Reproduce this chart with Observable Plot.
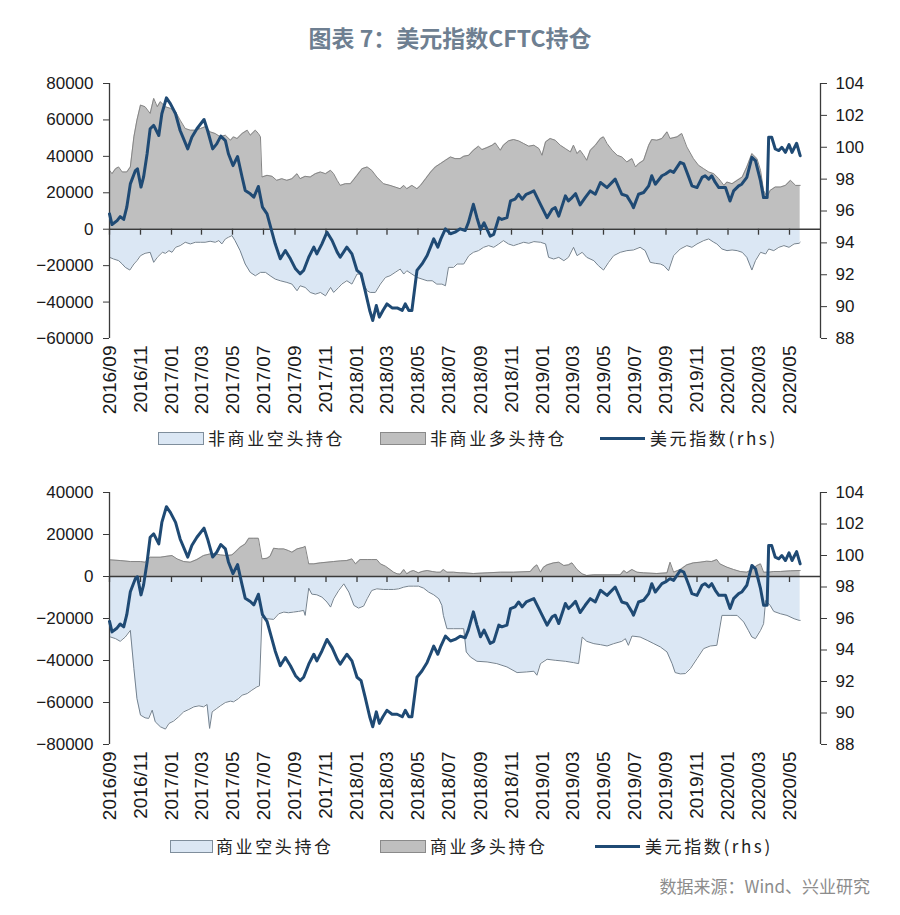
<!DOCTYPE html>
<html><head><meta charset="utf-8">
<script src="https://cdn.jsdelivr.net/npm/d3@7"></script>
<script src="https://cdn.jsdelivr.net/npm/@observablehq/plot@0.6"></script>
<style>
body{margin:0;background:#fff;}
#root{position:relative;width:900px;height:915px;overflow:hidden;}
.title{position:absolute;top:21px;left:0;width:900px;text-align:center;font:600 23px "Noto Sans CJK SC",sans-serif;color:#6e7f91;line-height:32px;}
.panel{position:absolute;left:0;}
.lg{position:absolute;font:17px "Noto Sans CJK SC",sans-serif;letter-spacing:2.6px;color:#222;line-height:24px;white-space:nowrap;}
.box{position:absolute;height:11px;}
.ln{position:absolute;height:3px;background:#1f4a74;}
.src{position:absolute;right:30px;top:873px;font:17px "Noto Sans CJK SC",sans-serif;color:#8c8c8c;}
</style></head>
<body><div id="root">
<div class="title">图表 7：美元指数CFTC持仓</div>
</div>
<script>
// ---------------- data ----------------
const xTickLabels = ["2016/09","2016/11","2017/01","2017/03","2017/05","2017/07","2017/09","2017/11","2018/01","2018/03","2018/05","2018/07","2018/09","2018/11","2019/01","2019/03","2019/05","2019/07","2019/09","2019/11","2020/01","2020/03","2020/05"];
const topLeftTicks = [-60000,-40000,-20000,0,20000,40000,60000,80000];
const bottomLeftTicks = [-80000,-60000,-40000,-20000,0,20000,40000];
const rightTicks = [88,90,92,94,96,98,100,102,104];

const dxyDates = ["2016-09-01","2016-09-06","2016-09-16","2016-09-22","2016-09-29","2016-10-05","2016-10-12","2016-10-22","2016-10-26","2016-11-02","2016-11-07","2016-11-14","2016-11-20","2016-11-27","2016-12-07","2016-12-13","2016-12-22","2016-12-30","2017-01-09","2017-01-18","2017-02-02","2017-02-10","2017-02-20","2017-03-06","2017-03-13","2017-03-23","2017-03-31","2017-04-08","2017-04-17","2017-04-23","2017-05-02","2017-05-11","2017-05-20","2017-05-26","2017-06-05","2017-06-12","2017-06-21","2017-06-29","2017-07-08","2017-07-16","2017-07-24","2017-08-03","2017-08-13","2017-08-23","2017-09-02","2017-09-11","2017-09-18","2017-09-28","2017-10-08","2017-10-14","2017-10-24","2017-11-03","2017-11-13","2017-11-23","2017-11-29","2017-12-12","2017-12-22","2018-01-01","2018-01-09","2018-01-17","2018-01-26","2018-02-01","2018-02-08","2018-02-14","2018-02-21","2018-03-01","2018-03-11","2018-03-21","2018-03-31","2018-04-06","2018-04-13","2018-04-19","2018-04-29","2018-05-09","2018-05-19","2018-05-27","2018-06-01","2018-06-09","2018-06-15","2018-06-24","2018-07-04","2018-07-13","2018-07-23","2018-08-02","2018-08-08","2018-08-18","2018-08-25","2018-09-01","2018-09-08","2018-09-20","2018-09-27","2018-10-07","2018-10-13","2018-10-23","2018-10-30","2018-11-08","2018-11-15","2018-11-22","2018-11-30","2018-12-08","2018-12-15","2018-12-28","2019-01-10","2019-01-20","2019-01-26","2019-02-02","2019-02-15","2019-02-21","2019-02-28","2019-03-07","2019-03-16","2019-03-26","2019-04-05","2019-04-15","2019-04-25","2019-05-08","2019-05-24","2019-06-06","2019-06-16","2019-06-26","2019-06-29","2019-07-09","2019-07-19","2019-07-29","2019-08-04","2019-08-11","2019-08-24","2019-08-31","2019-09-09","2019-09-16","2019-09-29","2019-10-06","2019-10-16","2019-10-22","2019-11-01","2019-11-11","2019-11-17","2019-11-24","2019-11-30","2019-12-07","2019-12-14","2019-12-27","2020-01-05","2020-01-12","2020-01-22","2020-01-28","2020-02-07","2020-02-17","2020-02-24","2020-03-05","2020-03-11","2020-03-18","2020-03-21","2020-03-27","2020-04-03","2020-04-10","2020-04-16","2020-04-23","2020-04-30","2020-05-06","2020-05-15","2020-05-22"];
const dxyValues = [95.82,95.15,95.40,95.65,95.47,96.24,97.70,98.54,98.65,97.50,98.12,99.59,101.16,101.37,100.74,102.10,103.10,102.72,102.10,101.05,99.90,100.63,101.16,101.74,101.05,99.90,100.21,100.70,100.42,99.59,98.85,99.42,98.12,97.29,97.08,96.87,97.54,96.24,95.82,94.88,93.94,93.00,93.52,93.00,92.37,92.06,92.27,93.10,93.73,93.31,93.94,94.67,94.15,93.42,93.10,93.73,93.31,92.27,92.06,91.01,89.76,89.13,90.07,89.34,89.76,90.17,89.92,89.92,89.76,90.17,89.76,89.76,92.27,92.68,93.21,93.84,94.25,93.73,94.25,94.88,94.57,94.67,94.88,94.78,95.26,96.42,95.58,94.84,95.26,94.42,94.53,95.58,95.47,95.58,96.63,96.74,97.05,96.74,97.05,97.16,97.26,96.42,95.58,96.11,96.21,95.68,96.95,96.63,96.84,97.09,96.38,96.84,97.26,97.05,97.79,97.47,98.00,97.05,96.95,96.42,96.21,97.05,97.16,97.58,98.21,97.68,98.21,98.32,98.53,98.42,99.05,98.95,98.11,97.58,97.47,98.11,98.21,98.00,98.21,97.79,97.47,97.47,96.63,97.26,97.58,97.68,98.11,99.37,99.16,97.89,96.84,96.84,100.63,100.63,99.89,99.79,100.00,99.68,100.17,99.68,100.25,99.47];

// 非商业多头持仓
const ncLongDates = ["2016-09-01","2016-09-06","2016-09-13","2016-09-19","2016-09-26","2016-10-05","2016-10-12","2016-10-19","2016-10-25","2016-11-01","2016-11-10","2016-11-20","2016-11-27","2016-12-04","2016-12-10","2016-12-20","2016-12-30","2017-01-09","2017-01-18","2017-01-28","2017-02-07","2017-02-17","2017-02-27","2017-03-08","2017-03-18","2017-03-28","2017-04-07","2017-04-17","2017-04-27","2017-05-03","2017-05-10","2017-05-20","2017-05-30","2017-06-05","2017-06-15","2017-06-21","2017-06-25","2017-06-28","2017-07-08","2017-07-18","2017-07-27","2017-08-06","2017-08-16","2017-08-26","2017-09-05","2017-09-11","2017-09-21","2017-10-01","2017-10-11","2017-10-21","2017-10-31","2017-11-10","2017-11-16","2017-11-23","2017-11-29","2017-12-09","2017-12-19","2018-01-01","2018-01-11","2018-01-21","2018-01-30","2018-02-09","2018-02-22","2018-03-07","2018-03-17","2018-03-27","2018-04-03","2018-04-09","2018-04-19","2018-04-29","2018-05-06","2018-05-16","2018-05-26","2018-06-04","2018-06-14","2018-06-24","2018-07-04","2018-07-13","2018-07-23","2018-07-30","2018-08-09","2018-08-18","2018-08-28","2018-09-04","2018-09-14","2018-09-24","2018-09-30","2018-10-10","2018-10-16","2018-10-26","2018-11-05","2018-11-15","2018-11-25","2018-12-05","2018-12-15","2018-12-25","2018-12-31","2019-01-07","2019-01-16","2019-01-26","2019-02-05","2019-02-15","2019-02-25","2019-03-03","2019-03-10","2019-03-16","2019-03-23","2019-03-29","2019-04-05","2019-04-15","2019-04-25","2019-05-01","2019-05-08","2019-05-18","2019-05-28","2019-06-06","2019-06-16","2019-06-26","2019-07-03","2019-07-09","2019-07-19","2019-07-29","2019-08-04","2019-08-14","2019-08-24","2019-09-03","2019-09-09","2019-09-23","2019-10-02","2019-10-12","2019-10-25","2019-11-04","2019-11-14","2019-11-24","2019-12-04","2019-12-14","2019-12-24","2019-12-30","2020-01-09","2020-01-19","2020-01-29","2020-02-07","2020-02-17","2020-02-27","2020-03-05","2020-03-11","2020-03-18","2020-03-24","2020-04-03","2020-04-13","2020-04-23","2020-05-03","2020-05-13","2020-05-22"];
const ncLongValues = [32331,30494,33250,34168,31413,31413,34168,50701,59886,68153,67234,63560,71827,67234,69990,67234,66316,64479,59886,55294,54375,54375,55294,56212,53457,52538,50701,51620,48864,50701,49783,52538,54375,51620,54375,52538,50701,28657,29576,29025,26820,27739,26820,27739,30494,27739,29025,28657,30494,31413,30494,32331,30494,26820,24065,24983,24983,29576,33250,34168,32331,28657,24983,24065,23146,22228,24065,22228,24065,22228,24065,27739,31413,34168,36005,37842,39679,38761,38761,40047,40598,43353,45558,43721,44823,46109,47395,43353,46109,48497,49232,48497,47027,45558,46109,44272,40598,47946,49783,48864,46109,44272,42435,46109,41516,43353,40598,37842,43353,46109,49783,50701,47027,43353,40598,39679,36924,38761,34168,36005,37842,46109,49232,48864,49783,53457,49783,50701,52538,45191,38761,35087,33250,31413,30494,27739,24065,25902,24983,26820,28657,34168,41516,38761,32331,21309,17635,21309,23146,23146,24065,26820,24065,24065];

// 非商业空头持仓
const ncShortDates = ["2016-09-01","2016-09-09","2016-09-19","2016-09-26","2016-10-02","2016-10-11","2016-10-19","2016-10-25","2016-11-01","2016-11-10","2016-11-20","2016-11-27","2016-12-04","2016-12-14","2016-12-20","2016-12-27","2017-01-02","2017-01-09","2017-01-18","2017-01-28","2017-02-07","2017-02-17","2017-02-27","2017-03-08","2017-03-18","2017-03-28","2017-04-04","2017-04-10","2017-04-17","2017-04-23","2017-04-30","2017-05-06","2017-05-16","2017-05-26","2017-06-05","2017-06-15","2017-06-25","2017-07-05","2017-07-14","2017-07-24","2017-08-03","2017-08-16","2017-08-26","2017-09-05","2017-09-11","2017-09-21","2017-10-01","2017-10-11","2017-10-21","2017-10-31","2017-11-10","2017-11-16","2017-11-26","2017-12-02","2017-12-12","2017-12-22","2018-01-01","2018-01-07","2018-01-14","2018-01-21","2018-01-27","2018-02-06","2018-02-16","2018-02-26","2018-03-07","2018-03-17","2018-03-27","2018-04-03","2018-04-09","2018-04-19","2018-04-29","2018-05-09","2018-05-19","2018-05-29","2018-06-07","2018-06-17","2018-06-24","2018-06-30","2018-07-10","2018-07-17","2018-07-23","2018-07-30","2018-08-09","2018-08-18","2018-08-28","2018-09-07","2018-09-17","2018-09-27","2018-10-07","2018-10-16","2018-10-26","2018-11-05","2018-11-15","2018-11-25","2018-12-05","2018-12-15","2018-12-28","2019-01-07","2019-01-13","2019-01-23","2019-02-02","2019-02-12","2019-02-21","2019-03-03","2019-03-10","2019-03-20","2019-03-29","2019-04-12","2019-04-21","2019-05-01","2019-05-11","2019-05-21","2019-06-03","2019-06-16","2019-06-29","2019-07-12","2019-07-22","2019-08-01","2019-08-11","2019-08-21","2019-08-28","2019-09-06","2019-09-16","2019-09-29","2019-10-12","2019-10-22","2019-11-01","2019-11-14","2019-11-24","2019-12-04","2019-12-10","2019-12-20","2019-12-30","2020-01-09","2020-01-19","2020-01-29","2020-02-07","2020-02-17","2020-02-24","2020-03-05","2020-03-15","2020-03-21","2020-03-31","2020-04-10","2020-04-20","2020-04-30","2020-05-10","2020-05-20","2020-05-22"];
const ncShortValues = [-15431,-16349,-17268,-19105,-20942,-22411,-19105,-17268,-14512,-13226,-12675,-18186,-15431,-12675,-13226,-11757,-12675,-9920,-9001,-7164,-8083,-7164,-7164,-7164,-6613,-7164,-6246,-8083,-5327,-4409,-3490,-6246,-11757,-19105,-23697,-25534,-23697,-23697,-25534,-27371,-28290,-29208,-30127,-33801,-31045,-31964,-34719,-35638,-34719,-36556,-31964,-34719,-31964,-30127,-28290,-30127,-24616,-24616,-30127,-33801,-34719,-34719,-30127,-26453,-25534,-23697,-21860,-24616,-22779,-24616,-26453,-27371,-28290,-28290,-30127,-30127,-31045,-20942,-20942,-19105,-19105,-19105,-14512,-12675,-11757,-9920,-9001,-9920,-8083,-6246,-8083,-9001,-8083,-7164,-7715,-6797,-7164,-8083,-15431,-16349,-15431,-17268,-15431,-9920,-14512,-12675,-15431,-17268,-20023,-22411,-18186,-14512,-12675,-11757,-11389,-9920,-11757,-18186,-18737,-19105,-20023,-22779,-14512,-10838,-9001,-9920,-8083,-6246,-5327,-7164,-8083,-10838,-11757,-11389,-11757,-12675,-15431,-22411,-17268,-12675,-13594,-10838,-11757,-9920,-9001,-9920,-8083,-7715,-7164];

// 商业多头持仓
const cLongDates = ["2016-09-03","2016-09-22","2016-10-12","2016-11-01","2016-11-10","2016-11-20","2016-12-10","2016-12-23","2017-01-02","2017-01-12","2017-01-25","2017-02-07","2017-02-20","2017-03-05","2017-03-18","2017-03-28","2017-04-07","2017-04-20","2017-04-30","2017-05-06","2017-05-16","2017-05-26","2017-06-02","2017-06-12","2017-06-21","2017-06-28","2017-07-08","2017-07-14","2017-07-21","2017-07-31","2017-08-10","2017-08-19","2017-08-26","2017-09-05","2017-09-18","2017-09-21","2017-09-28","2017-10-08","2017-10-21","2017-11-03","2017-11-16","2017-11-29","2017-12-12","2017-12-22","2017-12-29","2018-01-07","2018-01-21","2018-01-30","2018-02-09","2018-02-16","2018-02-26","2018-03-07","2018-03-14","2018-03-21","2018-03-27","2018-04-03","2018-04-09","2018-04-16","2018-04-22","2018-05-02","2018-05-09","2018-05-19","2018-05-29","2018-06-07","2018-06-14","2018-06-20","2018-06-27","2018-07-10","2018-07-23","2018-07-30","2018-08-18","2018-09-14","2018-10-10","2018-11-05","2018-12-08","2018-12-15","2018-12-21","2018-12-28","2019-01-03","2019-01-10","2019-01-23","2019-02-02","2019-02-12","2019-02-21","2019-02-28","2019-03-10","2019-03-20","2019-03-29","2019-04-12","2019-05-08","2019-06-03","2019-06-10","2019-06-16","2019-06-26","2019-07-06","2019-07-19","2019-08-14","2019-09-03","2019-09-09","2019-09-16","2019-09-29","2019-10-12","2019-10-25","2019-11-07","2019-11-20","2019-11-30","2019-12-10","2019-12-16","2019-12-30","2020-01-12","2020-01-25","2020-02-07","2020-02-17","2020-02-27","2020-03-05","2020-03-11","2020-03-21","2020-03-31","2020-04-13","2020-05-03","2020-05-20","2020-05-22"];
const cLongValues = [7915,7598,7124,7124,6807,9181,9181,9656,9973,8390,7124,6807,8073,9973,10764,10764,10290,9973,10290,11556,13930,15513,18205,18205,18205,8390,8707,9656,13456,13139,13139,12347,11556,13139,13930,14405,6015,6015,6490,6807,7124,7440,7598,8390,6015,8073,8073,8073,8073,6015,4907,3324,2058,1266,1108,3324,1266,2375,2849,1741,2375,2849,2375,2058,2058,3324,2058,2058,1741,1741,1425,1741,2058,2058,2375,4432,5541,2058,4432,5541,6490,6807,5224,5541,6490,3324,1266,475,792,792,792,2849,1741,3324,2058,1741,1425,1741,6807,2058,3324,5541,6490,6807,7282,7124,8073,6015,4432,3324,2375,2058,3324,5224,6015,2058,2058,2375,2375,2690,2849,2849];

// 商业空头持仓
const cShortDates = ["2016-09-03","2016-09-13","2016-09-22","2016-10-02","2016-10-12","2016-10-19","2016-10-25","2016-11-01","2016-11-10","2016-11-17","2016-11-24","2016-11-30","2016-12-10","2016-12-20","2016-12-27","2017-01-05","2017-01-15","2017-01-25","2017-02-04","2017-02-14","2017-02-24","2017-03-05","2017-03-12","2017-03-17","2017-03-22","2017-03-31","2017-04-07","2017-04-17","2017-04-27","2017-05-03","2017-05-13","2017-05-20","2017-05-30","2017-06-08","2017-06-18","2017-06-23","2017-06-28","2017-07-08","2017-07-21","2017-07-31","2017-08-10","2017-08-19","2017-08-29","2017-09-08","2017-09-18","2017-09-21","2017-09-28","2017-10-04","2017-10-14","2017-10-24","2017-11-03","2017-11-10","2017-11-16","2017-11-26","2017-12-06","2017-12-16","2017-12-26","2018-01-04","2018-01-14","2018-01-21","2018-01-30","2018-02-09","2018-02-22","2018-03-04","2018-03-14","2018-03-24","2018-04-03","2018-04-13","2018-04-22","2018-05-02","2018-05-12","2018-05-22","2018-06-01","2018-06-11","2018-06-17","2018-06-20","2018-06-27","2018-07-10","2018-07-23","2018-07-30","2018-08-04","2018-08-12","2018-08-25","2018-09-14","2018-10-03","2018-10-23","2018-11-12","2018-12-01","2018-12-15","2018-12-21","2018-12-28","2019-01-10","2019-01-26","2019-02-15","2019-03-03","2019-03-13","2019-03-20","2019-03-29","2019-04-12","2019-04-25","2019-05-08","2019-05-21","2019-06-06","2019-06-13","2019-06-19","2019-06-26","2019-07-12","2019-07-26","2019-08-08","2019-08-21","2019-09-03","2019-09-13","2019-09-19","2019-09-29","2019-10-09","2019-10-19","2019-11-01","2019-11-14","2019-11-27","2019-12-10","2019-12-20","2020-01-05","2020-01-19","2020-02-01","2020-02-10","2020-02-17","2020-02-24","2020-03-05","2020-03-11","2020-03-15","2020-03-24","2020-03-31","2020-04-13","2020-04-26","2020-05-10","2020-05-20","2020-05-22"];
const cShortValues = [-28811,-29602,-30869,-28811,-25645,-43849,-58096,-66011,-67278,-67594,-63637,-69177,-71552,-72660,-69969,-68861,-66803,-64428,-63320,-62054,-61579,-62054,-60946,-72343,-64428,-62845,-61579,-59996,-59363,-59679,-58096,-56513,-55722,-54139,-52556,-52081,-19313,-20104,-20421,-17730,-16938,-17255,-16938,-16622,-16147,-18521,-5541,-8390,-8707,-9815,-12189,-14564,-10606,-6649,-3483,-7440,-13772,-15039,-14089,-10606,-6649,-5857,-6174,-6174,-6174,-5857,-5066,-4591,-4591,-4591,-5541,-7440,-8707,-10606,-13772,-18521,-24853,-24853,-24853,-24853,-35934,-38309,-40367,-40683,-41475,-43058,-45749,-45432,-45116,-47015,-41475,-39417,-39892,-40367,-41000,-41475,-28811,-30869,-31977,-32452,-33085,-31977,-30869,-29602,-32768,-28336,-28811,-30394,-31977,-33560,-35934,-41475,-45749,-46382,-46224,-43849,-39100,-34351,-33085,-32768,-18521,-18521,-18521,-21687,-25645,-28811,-29602,-25645,-22479,-11398,-13772,-16622,-17730,-18521,-20104,-20896,-20896];

// ---------------- helpers ----------------
const parse = d3.utcParse("%Y-%m-%d");
const zip = (ds, vs) => ds.map((d, i) => ({date: parse(d), v: vs[i]}));
const dxy = zip(dxyDates, dxyValues);
const tickDates = xTickLabels.map(d3.utcParse("%Y/%m"));
const xDomain = [new Date(Date.UTC(2016, 8, 1)), new Date(Date.UTC(2020, 6, 1))];

const C = {long: "#bfbfbf", longLine: "#858585", short: "#dbe7f4", shortLine: "#74828f", dxy: "#1f4a74", axis: "#3a3a3a"};

function panel({longData, shortData, yDomain, yTicks, top, height, marginTop, marginBottom}) {
  const [lo, hi] = yDomain;
  const toLeft = v => lo + (v - 88) / 16 * (hi - lo);
  const fromLeft = y => Math.round(88 + (y - lo) / (hi - lo) * 16);
  const chart = Plot.plot({
    width: 900, height, marginTop, marginBottom, marginLeft: 109, marginRight: 80,
    style: {fontFamily: "'Liberation Sans', Arial, sans-serif", fontSize: "17px", color: "#1a1a1a", background: "transparent", overflow: "visible"},
    x: {type: "utc", domain: xDomain},
    y: {domain: yDomain, label: null},
    marks: [
      Plot.areaY(longData, {x: "date", y: "v", fill: C.long}),
      Plot.areaY(shortData, {x: "date", y: "v", fill: C.short}),
      Plot.lineY(longData, {x: "date", y: "v", stroke: C.longLine, strokeWidth: 1}),
      Plot.lineY(shortData, {x: "date", y: "v", stroke: C.shortLine, strokeWidth: 1}),
      Plot.ruleY([0], {stroke: C.axis, strokeWidth: 1.5}),
      Plot.ruleX(tickDates, {x: d => d, y1: 0, y2: 0, insetBottom: -6, stroke: C.axis, strokeWidth: 1.3}),
      Plot.ruleX([xDomain[0]], {stroke: C.axis, strokeWidth: 1.3}),
      Plot.ruleX([xDomain[1]], {stroke: C.axis, strokeWidth: 1.3}),
      Plot.axisY(yTicks, {anchor: "left", tickSize: 6, tickPadding: 10, tickFormat: d3.format("d"), stroke: C.axis, fontSize: 17, label: null}),
      Plot.axisY(rightTicks.map(toLeft), {anchor: "right", tickSize: 6, tickPadding: 9, tickFormat: fromLeft, stroke: C.axis, fontSize: 17, label: null}),
      Plot.axisX(tickDates, {anchor: "bottom", tickSize: 0, tickPadding: 7, tickRotate: -90, tickFormat: d3.utcFormat("%Y/%m"), fontSize: 19, label: null}),
      Plot.lineY(dxy, {x: "date", y: d => toLeft(d.v), stroke: C.dxy, strokeWidth: 3, strokeLinejoin: "round"})
    ]
  });
  chart.classList.add("panel");
  chart.style.top = top + "px";
  chart.style.position = "absolute";
  return chart;
}

const root = document.getElementById("root");
root.appendChild(panel({longData: zip(ncLongDates, ncLongValues), shortData: zip(ncShortDates, ncShortValues), yDomain: [-60000, 80000], yTicks: topLeftTicks, top: 60, height: 370, marginTop: 23, marginBottom: 92}));
root.appendChild(panel({longData: zip(cLongDates, cLongValues), shortData: zip(cShortDates, cShortValues), yDomain: [-80000, 40000], yTicks: bottomLeftTicks, top: 470, height: 370, marginTop: 22, marginBottom: 96}));

function legend(y, items) {
  for (const it of items) {
    if (it.type === "box") {
      const b = document.createElement("div");
      b.className = "box";
      Object.assign(b.style, {left: it.x + "px", top: (y - 6) + "px", width: it.w + "px", background: it.fill, border: "1px solid " + it.border});
      root.appendChild(b);
    } else {
      const l = document.createElement("div");
      l.className = "ln";
      Object.assign(l.style, {left: it.x + "px", top: (y - 1.5) + "px", width: it.w + "px"});
      root.appendChild(l);
    }
    const t = document.createElement("div");
    t.className = "lg";
    t.textContent = it.label;
    Object.assign(t.style, {left: it.tx + "px", top: (y - 12) + "px"});
    root.appendChild(t);
  }
}
legend(438, [
  {type: "box", x: 158, w: 44, fill: C.short, border: "#7f8e9c", label: "非商业空头持仓", tx: 208},
  {type: "box", x: 380, w: 44, fill: C.long, border: "#8a8a8a", label: "非商业多头持仓", tx: 430},
  {type: "line", x: 600, w: 45, label: "美元指数(rhs)", tx: 650}
]);
legend(846, [
  {type: "box", x: 170, w: 41, fill: C.short, border: "#7f8e9c", label: "商业空头持仓", tx: 216},
  {type: "box", x: 380, w: 44, fill: C.long, border: "#8a8a8a", label: "商业多头持仓", tx: 430},
  {type: "line", x: 595, w: 45, label: "美元指数(rhs)", tx: 645}
]);
const src = document.createElement("div");
src.className = "src";
src.textContent = "数据来源：Wind、兴业研究";
root.appendChild(src);
</script>
</body></html>
